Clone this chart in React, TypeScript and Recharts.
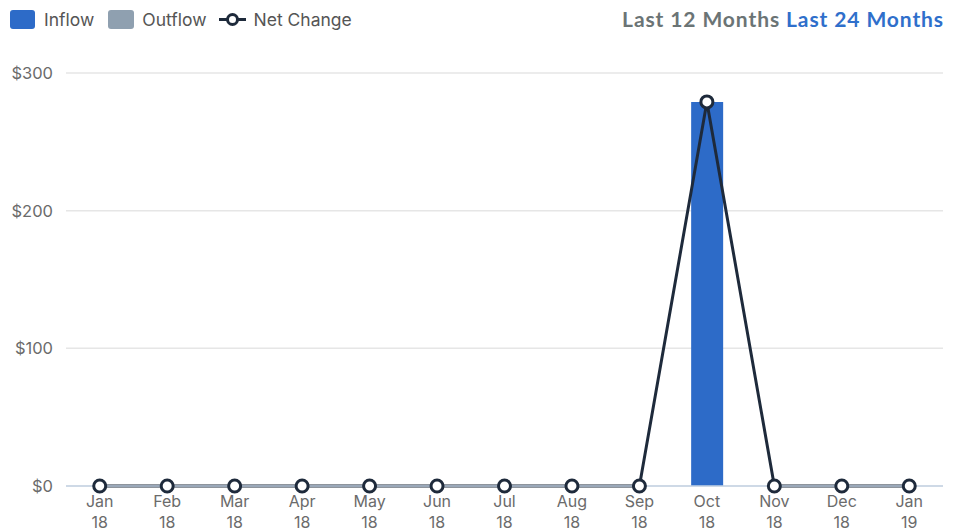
import React from "react";
import { ComposedChart, Bar, Line, XAxis, YAxis, CartesianGrid } from "recharts";

const months = ["Jan", "Feb", "Mar", "Apr", "May", "Jun", "Jul", "Aug", "Sep", "Oct", "Nov", "Dec", "Jan"];
const years = ["18", "18", "18", "18", "18", "18", "18", "18", "18", "18", "18", "18", "19"];
const inflow = [0, 0, 0, 0, 0, 0, 0, 0, 0, 279, 0, 0, 0];
const outflow = [0, 0, 0, 0, 0, 0, 0, 0, 0, 0, 0, 0, 0];
const netChange = [0, 0, 0, 0, 0, 0, 0, 0, 0, 279, 0, 0, 0];
const yTicks = [0, 100, 200, 300];

const data = months.map((m, i) => ({
  key: `${m} ${years[i]}`,
  inflow: inflow[i],
  outflow: outflow[i],
  net: netChange[i],
}));

const NAVY = "#1e2a3b";
const BLUE = "#2d6bc8";
const GREY_BAR = "#8fa0b0";
const FONT = "Inter, Roboto, sans-serif";

const MonthTick = (props: any) => {
  const { x, y, payload } = props;
  const [m, yr] = String(payload.value).split(" ");
  return (
    <text x={x} y={y} textAnchor="middle" fill="#6b6b6b" fontSize={16} fontFamily={FONT}>
      <tspan x={x} dy={13}>{m}</tspan>
      <tspan x={x} dy={21}>{yr}</tspan>
    </text>
  );
};

export default function App() {
  return (
    <div style={{ position: "absolute", left: 0, top: 0, width: 960, height: 532, background: "#fff" }}>
      <div style={{ position: "absolute", left: 10, top: 9, display: "flex", alignItems: "center", fontFamily: FONT, fontSize: 17.5, color: "#555" }}>
        <span style={{ width: 25, height: 19, background: BLUE, borderRadius: 3, marginRight: 9 }} />
        <span style={{ marginRight: 14 }}>Inflow</span>
        <span style={{ width: 26, height: 19, background: GREY_BAR, borderRadius: 3, marginRight: 8 }} />
        <span style={{ marginRight: 12 }}>Outflow</span>
        <svg width={27} height={19} style={{ marginRight: 8 }}>
          <line x1={0} y1={9.5} x2={27} y2={9.5} stroke={NAVY} strokeWidth={3} />
          <circle cx={13.5} cy={9.5} r={5} fill="#fff" stroke={NAVY} strokeWidth={3} />
        </svg>
        <span>Net Change</span>
      </div>
      <div style={{ position: "absolute", right: 16, top: 6, fontFamily: "Lato, sans-serif", fontWeight: 700, fontSize: 21, letterSpacing: 0.9 }}>
        <span style={{ color: "#6b7475" }}>Last 12 Months</span>{" "}
        <span style={{ color: "#2f6fcb" }}>Last 24 Months</span>
      </div>
      <div style={{ position: "absolute", left: 0, top: 0 }}>
        <ComposedChart width={960} height={532} data={data} margin={{ top: 73, right: 17, bottom: 0, left: 0 }}>
          <CartesianGrid vertical={false} stroke="#e6e6e6" strokeWidth={1.5} />
          <XAxis
            dataKey="key"
            tick={<MonthTick />}
            tickLine={false}
            axisLine={{ stroke: "#c5d3e4", strokeWidth: 1.5 }}
            interval={0}
            height={46}
          />
          <YAxis
            domain={[0, 300]}
            ticks={yTicks}
            width={66}
            tickLine={false}
            axisLine={false}
            tickSize={0}
            tickMargin={13}
            tickFormatter={(v) => `$${v}`}
            tick={{ fill: "#6b6b6b", fontSize: 16.5, fontFamily: FONT }}
          />
          <Bar dataKey="inflow" stackId="a" fill={BLUE} barSize={32} isAnimationActive={false} />
          <Bar dataKey="outflow" stackId="a" fill={GREY_BAR} barSize={32} isAnimationActive={false} />
          <Line
            type="linear"
            dataKey="net"
            stroke={NAVY}
            strokeWidth={3}
            dot={{ r: 6, fill: "#fff", stroke: NAVY, strokeWidth: 3 }}
            isAnimationActive={false}
          />
        </ComposedChart>
      </div>
    </div>
  );
}
